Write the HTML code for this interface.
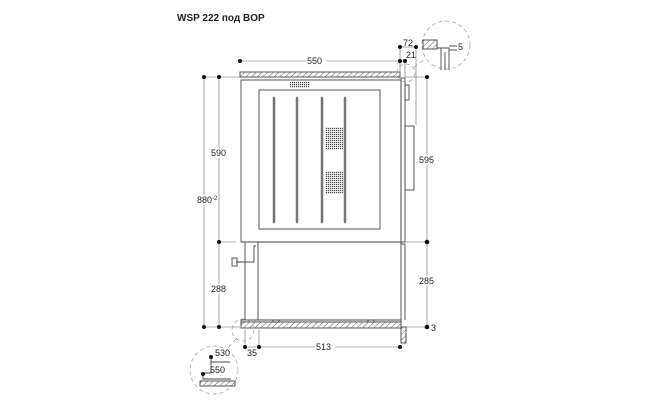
<!DOCTYPE html>
<html><head><meta charset="utf-8"><style>
body{margin:0;background:#fff;width:650px;height:400px;overflow:hidden}
svg text{font-family:"Liberation Sans",Arial,sans-serif;font-size:9px;fill:#222}
</style></head><body>
<svg width="650" height="400" viewBox="0 0 650 400">
<defs>
<pattern id="h" width="4" height="4" patternUnits="userSpaceOnUse" patternTransform="rotate(45)">
<rect width="4" height="4" fill="#fff"/><line x1="0" y1="0" x2="0" y2="4" stroke="#555" stroke-width="1"/></pattern>
<pattern id="d" width="2" height="2" patternUnits="userSpaceOnUse">
<rect width="2" height="2" fill="#fff"/><rect width="1.2" height="1.2" fill="#444"/></pattern>
</defs>
<text x="177" y="21" style="font-weight:bold;font-size:10px">WSP 222 под BOP</text>
<g stroke="#444" stroke-width="0.9" fill="none">
<rect x="240" y="72" width="160" height="5" fill="url(#h)"/>
<rect x="241" y="80" width="160" height="162"/>
<rect x="259" y="90" width="121" height="139"/>
<line x1="241" y1="242" x2="401" y2="242"/>
<g stroke="#777" stroke-width="2.5" stroke-linecap="round">
<line x1="274" y1="98" x2="274" y2="222"/><line x1="297" y1="98" x2="297" y2="222"/>
<line x1="322" y1="98" x2="322" y2="222"/><line x1="345" y1="98" x2="345" y2="222"/>
</g>
<rect x="401" y="78" width="4" height="164"/>
<rect x="405" y="85" width="4" height="15"/>
<rect x="405" y="126" width="9" height="64"/>
<rect x="245" y="242" width="156" height="78"/>
<line x1="258" y1="242" x2="258" y2="320"/>
<line x1="401" y1="244" x2="405" y2="244"/>
<line x1="405" y1="244" x2="405" y2="320"/>
<rect x="241" y="320" width="160" height="2"/>
<rect x="241" y="322" width="160" height="6" fill="url(#h)"/>
<rect x="401" y="327" width="5" height="16" fill="url(#h)"/>
<rect x="273" y="320" width="6" height="2"/><rect x="368" y="320" width="6" height="2"/>
<polyline points="256,246 254,246 254,262 236,262"/>
<rect x="232" y="258" width="5" height="8"/>
<g stroke="#666" stroke-width="0.6">
<line x1="240" y1="61" x2="400" y2="61"/>
<line x1="400" y1="47" x2="416" y2="47"/>
<line x1="400" y1="61" x2="405" y2="61"/>
<line x1="416" y1="47" x2="416" y2="125"/>
<line x1="400" y1="47" x2="400" y2="72"/><line x1="405" y1="61" x2="405" y2="78"/>
<line x1="204" y1="77" x2="240" y2="77"/><line x1="204" y1="77" x2="204" y2="327"/>
<line x1="219" y1="77" x2="219" y2="327"/>
<line x1="204" y1="327" x2="240" y2="327"/>
<line x1="219" y1="242" x2="236" y2="242"/>
<line x1="405" y1="77" x2="427" y2="77"/><line x1="427" y1="77" x2="427" y2="327"/>
<line x1="405" y1="242" x2="427" y2="242"/><line x1="406" y1="327" x2="427" y2="327"/>
<line x1="245" y1="347" x2="400" y2="347"/>
<line x1="245" y1="330" x2="245" y2="347"/><line x1="259" y1="330" x2="259" y2="347"/>
</g>
<g stroke="#999" stroke-dasharray="4,3" stroke-width="0.7">
<circle cx="446" cy="45" r="24"/><circle cx="406" cy="73" r="9"/>
<circle cx="243" cy="330" r="11"/><circle cx="214" cy="370" r="24"/>
<line x1="414" y1="67" x2="424" y2="60"/><line x1="236" y1="339" x2="228" y2="348"/>
</g>
<rect x="423" y="40" width="14" height="9" fill="url(#h)"/>
<polyline points="437,48 449,48 449,70"/><line x1="441" y1="48" x2="441" y2="70"/><line x1="445" y1="52" x2="445" y2="70"/>
<line x1="449" y1="46" x2="457" y2="46"/><line x1="449" y1="50" x2="457" y2="50"/>
<rect x="200" y="381" width="35" height="5" fill="url(#h)"/>
<polyline points="211,357 211,373 203,373 203,379 231,379"/>
<line x1="211" y1="362" x2="230" y2="362"/>
</g>
<rect x="290" y="82" width="20" height="6" fill="url(#d)"/>
<rect x="325" y="127" width="18" height="23" fill="url(#d)"/>
<rect x="325" y="171" width="18" height="23" fill="url(#d)"/>
<g fill="#111">
<circle cx="240" cy="61" r="2"/><circle cx="400" cy="61" r="2"/><circle cx="405" cy="61" r="2"/>
<circle cx="400" cy="47" r="2"/><circle cx="416" cy="47" r="2"/>
<circle cx="204" cy="77" r="2"/><circle cx="219" cy="77" r="2"/>
<circle cx="204" cy="327" r="2"/><circle cx="219" cy="327" r="2"/><circle cx="219" cy="242" r="2"/>
<circle cx="427" cy="77" r="2"/><circle cx="427" cy="242" r="2.3"/><circle cx="427" cy="327" r="2.3"/>
<circle cx="245" cy="347" r="2"/><circle cx="259" cy="347" r="2"/><circle cx="400" cy="347" r="2"/>
<circle cx="211" cy="357" r="2"/><circle cx="203" cy="374" r="2"/>
</g>
<g>
<rect x="306" y="56" width="20" height="10" fill="#fff"/><text x="307" y="64">550</text>
<text x="403" y="46">72</text><text x="406" y="58">21</text>
<text x="458" y="50">5</text>
<rect x="210" y="148" width="18" height="10" fill="#fff"/><text x="211" y="156">590</text>
<rect x="196" y="195" width="22" height="10" fill="#fff"/><text x="197" y="203">880<tspan dy="-3" font-size="6">-2</tspan></text>
<rect x="210" y="284" width="18" height="10" fill="#fff"/><text x="211" y="292">288</text>
<rect x="418" y="155" width="18" height="10" fill="#fff"/><text x="419" y="163">595</text>
<rect x="418" y="276" width="18" height="10" fill="#fff"/><text x="419" y="284">285</text>
<text x="431" y="331">3</text>
<rect x="315" y="342" width="20" height="10" fill="#fff"/><text x="316" y="350">513</text>
<text x="247" y="356">35</text>
<text x="215" y="356">530</text><text x="210" y="373">550</text>
</g>
</svg>
</body></html>
